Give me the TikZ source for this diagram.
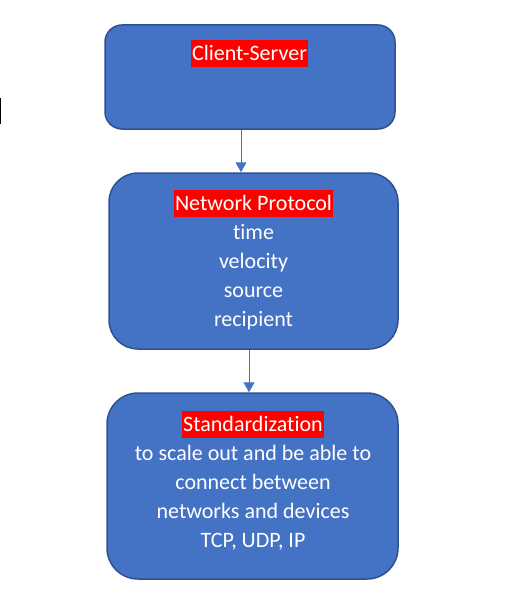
\documentclass[tikz,border=0pt]{standalone}
\usepackage{fontspec}
\setmainfont{Carlito}[Ligatures={NoCommon,NoContextual}]
\usetikzlibrary{arrows.meta}
\definecolor{boxfill}{HTML}{4472C4}
\definecolor{boxline}{HTML}{2F528F}
\newcommand{\hlred}[1]{{\setlength{\fboxsep}{0pt}\colorbox{red}{\rule[-6.7pt]{0pt}{26.9pt}\kern1pt#1\kern1pt}}}
\tikzset{
  box/.style={draw=boxline, fill=boxfill, line width=1.5pt, inner sep=0pt},
  txt/.style={text=white, inner sep=0pt, align=center, anchor=north, font=\fontsize{22}{29}\selectfont},
  arr/.style={draw=boxfill, line width=1pt, -{Triangle[length=10pt,width=11pt]}}
}
\begin{document}
\begin{tikzpicture}[x=1pt,y=-1pt]
\useasboundingbox (0,0) rectangle (510,602);
\fill[black] (0,97.5) rectangle (1.3,124.3);
\node[box, minimum width=290pt, minimum height=104pt, rounded corners=17pt] (b1) at (250,77) {};
\node[box, minimum width=289pt, minimum height=176pt, rounded corners=29pt] (b2) at (253.5,261) {};
\node[box, minimum width=291pt, minimum height=186pt, rounded corners=31pt] (b3) at (252.5,486) {};
\node[txt] (t1) at (249.5,40) {\hlred{Client-Server}};
\node[txt] (t2) at (253.5,190) {\hlred{Network Protocol}\\time\\velocity\\source\\recipient};
\node[txt] (t3) at (253,411) {\hlred{Standardization}\\to scale out and be able to\\connect between\\networks and devices\\TCP, UDP, IP};
\coordinate (a1) at (241,0);
\coordinate (a2) at (249,0);
\draw[arr] (b1.south -| a1) -- (b2.north -| a1);
\draw[arr] (b2.south -| a2) -- (b3.north -| a2);
\end{tikzpicture}
\end{document}
